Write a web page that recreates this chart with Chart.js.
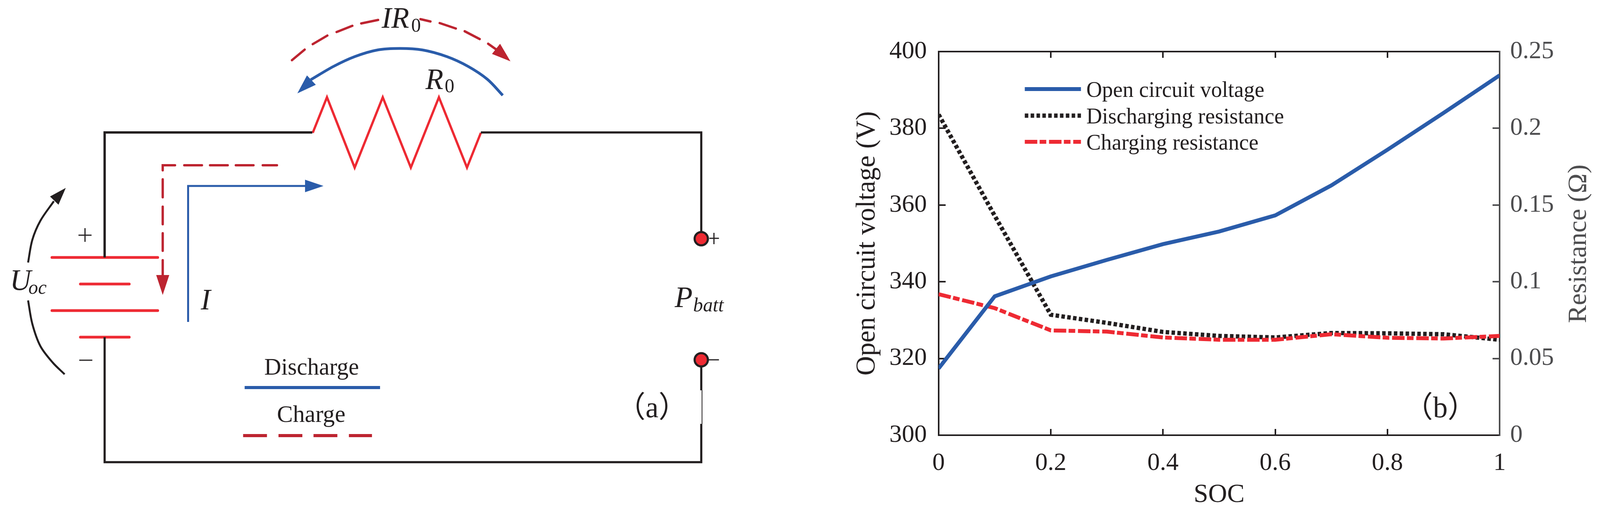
<!DOCTYPE html>
<html><head><meta charset="utf-8">
<script src="https://cdn.jsdelivr.net/npm/chart.js@4/dist/chart.umd.min.js"></script>
<style>html,body{margin:0;padding:0;background:#fff}
canvas{position:absolute;top:0}</style></head><body>
<canvas id="a"></canvas>
<canvas id="b"></canvas>
<script>
// ---- panel (b) data ----
const soc = [0,0.1,0.2,0.3,0.4,0.5,0.6,0.7,0.8,0.9,1];
const openCircuitVoltage = [317.4,336.2,341.4,345.7,349.8,353.1,357.3,365.1,374.4,384,393.8];
const dischargingResistance = [0.209,0.143,0.0785,0.0732,0.0673,0.0647,0.0637,0.0666,0.0664,0.0658,0.0622];
const chargingResistance = [0.0919,0.0828,0.0683,0.0675,0.0637,0.0622,0.0622,0.0658,0.0635,0.063,0.0647];
const socTicks = [0,0.2,0.4,0.6,0.8,1];
const voltageTicks = [300,320,340,360,380,400];
const resistanceTicks = [0,0.05,0.1,0.15,0.2,0.25];
const seriesNames = ['Open circuit voltage','Discharging resistance','Charging resistance'];

// ---- panel (a) schematic, in diagram units ----
const G = null;
const wireLeftTop = [[812,339],[272,339],[272,659]];
const wireLeftBottom = [[272,863],[272,1183],[1823,1183],[1823,1085]];
const wireRight = [[1250,339],[1823,339],[1823,612]];
const wireTerminalMinus = [[1823,922],[1823,999]];
const wireThin = [[1825,999],[1825,1085]];
const resistor = [[813,340],[850,249],[922,429],[995,249],[1068,429],[1141,249],[1214,429],[1250,340]];
const plates = [[135,659],[410,659],G,[209,727],[336,727],G,[135,795],[410,795],G,[209,863],[336,863]];
const signs = [[204,602],[238,602],G,[221,584],[221,619],G,[206,922],[240,922],G,[1844,610],[1869,610],G,[1856,596],[1856,625],G,[1842,921],[1869,921]];
const arcCharge = [[759,154],[792,127],G,[813,113],[851,91],G,[875,82],[916,66],G,[939,60],[983,51],G,[1093,49],[1119,55],G,[1143,59],[1185,73],G,[1208,80],[1247,100],G,[1269,112],[1292,128]];
const arcChargeHead = [[1327,157],[1300,112],[1279,138]];
const arcDischarge = [[1307,244],[1267,203],[1217,170],[1162,145],[1099,128],[1040,124],[981,128],[922,145],[867,170],[808,204]];
const arcDischargeHead = [[773,239],[798,193],[821,217]];
const uocUpper = [[73,672],[84,614],[105,565],[140,515]];
const uocUpperHead = [[171,481],[130,503],[152,524]];
const uocLower = [[73,769],[84,829],[105,886],[137,928],[168,958]];
const currentCharge = [[720,423],[683,423],G,[659,423],[613,423],G,[592,423],[546,423],G,[525,423],[479,423],G,[455,423],[423,423],[423,436],G,[423,459],[423,505],G,[423,529],[423,574],G,[423,597],[423,642],G,[423,666],[423,706]];
const currentChargeHead = [[423,755],[406,704],[440,704]];
const currentDischarge = [[489,824],[489,476],[800,476]];
const currentDischargeHead = [[841,476],[793,460],[793,492]];
const keyDischarge = [[636,992],[988,992]];
const keyCharge = [[632,1115],[694,1115],G,[724,1115],[786,1115],G,[815,1115],[877,1115],G,[907,1115],[967,1115]];
const terminals = [[1823,611],[1823,921]];
const schematicLabels = [
 ['U',26,742,'italic 76px'],['oc',74,752,'italic 50px'],['I',522,792,'italic 76px'],
 ['R',1106,228,'italic 76px'],['0',1156,236,'50px'],['IR',992,71,'italic 76px'],['0',1069,81,'50px'],
 ['P',1754,786,'italic 76px'],['batt',1802,797,'italic 51px'],
 ['Discharge',687,959,'61px'],['Charge',720,1080,'62px']
];

const BLACK='#231f20', BLUE='#2a5caa', RED='#ee2a33', DARK='#bd2430', GRAY='#4d4d4f', SERIF='"Liberation Serif"';
const pts = a => a.map(p => p ? {x:p[0],y:p[1]} : {x:NaN,y:NaN});

// the window may be narrower than the 4159 wide reference: fit horizontally
const k = Math.min(1, window.innerWidth/4159);
const ca=document.getElementById('a'), cb=document.getElementById('b');
const wa=Math.round(2100*k), wb=Math.round(4159*k)-wa;
ca.width=wa;ca.height=1308;ca.style.left='0';ca.style.width=wa+'px';ca.style.height='1308px';
cb.width=wb;cb.height=1308;cb.style.left=wa+'px';cb.style.width=wb+'px';cb.style.height='1308px';

function drawText(ctx,t,x,y,font,align){ctx.save();ctx.translate(x,y);ctx.scale(k,1);ctx.font=font;ctx.textAlign=align||'left';ctx.fillText(t,0,0);ctx.restore();}
function stroke(data,color,width,extra){return Object.assign({data:pts(data),borderColor:color,backgroundColor:'transparent',borderWidth:width,showLine:true,pointRadius:0,clip:false,spanGaps:false,borderCapStyle:'butt',borderJoinStyle:'miter'},extra||{});}
function head(data,color){return {data:pts(data),borderColor:color,backgroundColor:color,borderWidth:0,showLine:true,pointRadius:0,clip:false,fill:'shape'};}

const schematicText = {id:'schematicText',afterDatasetsDraw(c){
  const x=c.scales.x,y=c.scales.y,ctx=c.ctx;ctx.save();ctx.fillStyle=BLACK;ctx.textBaseline='alphabetic';
  schematicLabels.forEach(l=>drawText(ctx,l[0],x.getPixelForValue(l[1]),y.getPixelForValue(l[2]),l[3]+' '+SERIF));
  drawText(ctx,'（a）',x.getPixelForValue(1695),y.getPixelForValue(1068),'76px '+SERIF+',"Noto Sans CJK SC"','center');
  ctx.restore();}};

new Chart(ca,{type:'scatter',plugins:[schematicText],data:{datasets:[
  {data:pts(terminals),pointRadius:17,pointBorderWidth:5.5,pointBackgroundColor:RED,pointBorderColor:BLACK,showLine:false,clip:false},
  stroke(wireLeftTop,BLACK,6),stroke(wireLeftBottom,BLACK,5.5),stroke(wireRight,BLACK,5.5),stroke(wireTerminalMinus,BLACK,5.5),stroke(wireThin,BLACK,2),
  stroke(resistor,RED,6),stroke(plates,RED,7,{borderCapStyle:'round'}),stroke(signs,BLACK,3),
  stroke(arcCharge,DARK,6,{borderCapStyle:'round'}),head(arcChargeHead,DARK),
  stroke(arcDischarge,BLUE,7,{tension:0.33}),head(arcDischargeHead,BLUE),
  stroke(uocUpper,BLACK,5,{tension:0.33}),head(uocUpperHead,BLACK),stroke(uocLower,BLACK,5,{tension:0.33}),
  stroke(currentCharge,DARK,6,{borderCapStyle:'round'}),head(currentChargeHead,DARK),
  stroke(currentDischarge,BLUE,5),head(currentDischargeHead,BLUE),
  stroke(keyDischarge,BLUE,8),stroke(keyCharge,DARK,8)
]},options:{responsive:false,animation:false,devicePixelRatio:1,layout:{padding:0,autoPadding:false},
  plugins:{legend:{display:false},tooltip:{enabled:false}},events:[],
  scales:{x:{type:'linear',display:false,min:0,max:2100},y:{type:'linear',display:false,min:0,max:1308,reverse:true}}}});

// ---- panel (b) ----
const P={left:340*k,top:132,right:261*k,bottom:194};
const forceW=w=>s=>{s.width=w;}, forceH=h=>s=>{s.height=h;};
const setTicks=v=>s=>{s.ticks=v.map(t=>({value:t}));};
const series=[
 {label:seriesNames[0],data:soc.map((x,i)=>({x,y:openCircuitVoltage[i]})),yAxisID:'y',borderColor:BLUE,borderWidth:10,pointRadius:0,order:0,borderJoinStyle:'miter'},
 {label:seriesNames[1],data:soc.map((x,i)=>({x,y:dischargingResistance[i]})),yAxisID:'y1',borderColor:BLACK,borderWidth:11,borderDash:[9,6],pointRadius:0,order:2,borderJoinStyle:'miter'},
 {label:seriesNames[2],data:soc.map((x,i)=>({x,y:chargingResistance[i]})),yAxisID:'y1',borderColor:RED,borderWidth:10,borderDash:[32,6,17,7],pointRadius:0,order:1,borderJoinStyle:'miter'}
];
const annot={id:'annot',afterDatasetsDraw(c){
  const ctx=c.ctx;ctx.save();ctx.textBaseline='alphabetic';
  const ly=[228,296,363],x0=564*k,x1=710*k,tx=724*k;
  c.data.datasets.forEach((d,i)=>{ctx.save();ctx.strokeStyle=d.borderColor;ctx.lineWidth=d.borderWidth;ctx.setLineDash(d.borderDash||[]);
    ctx.beginPath();ctx.moveTo(x0,ly[i]);ctx.lineTo(x1,ly[i]);ctx.stroke();ctx.restore();
    ctx.fillStyle=BLACK;drawText(ctx,d.label,tx,ly[i]+20,'56.7px '+SERIF);});
  ctx.fillStyle=BLACK;
  drawText(ctx,'（b）',1644*k,1068,'76px '+SERIF+',"Noto Sans CJK SC"','center');
  ctx.save();ctx.translate(2023*k,624);ctx.rotate(-Math.PI/2);ctx.fillStyle=GRAY;ctx.font='68.4px '+SERIF;ctx.textAlign='center';
  ctx.fillText('Resistance (Ω)',0,0);ctx.restore();
  ctx.restore();}};
new Chart(cb,{type:'line',plugins:[annot],data:{datasets:series},options:{responsive:false,animation:false,devicePixelRatio:1,layout:{padding:0,autoPadding:false},
  plugins:{legend:{display:false},tooltip:{enabled:false}},events:[],
  scales:{
   x:{type:'linear',position:'bottom',min:0,max:1,afterFit:forceH(P.bottom),afterBuildTicks:setTicks(socTicks),
      grid:{drawOnChartArea:false,color:BLACK,lineWidth:4,tickLength:-16},border:{color:BLACK,width:4},
      ticks:{color:BLACK,font:{family:SERIF,size:64},padding:50,autoSkip:false,maxRotation:0,callback:v=>String(v)},
      title:{display:true,text:'SOC',color:BLACK,font:{family:SERIF,size:67},padding:{top:0,bottom:0}}},
   x2:{type:'linear',position:'top',min:0,max:1,afterFit:forceH(P.top),afterBuildTicks:setTicks(socTicks),
      grid:{drawOnChartArea:false,color:BLACK,lineWidth:4,tickLength:-16},border:{color:BLACK,width:4},ticks:{display:false}},
   y:{type:'linear',position:'left',min:300,max:400,afterFit:forceW(P.left),afterBuildTicks:setTicks(voltageTicks),
      grid:{drawOnChartArea:false,color:BLACK,lineWidth:4,tickLength:-18},border:{color:BLACK,width:4},
      ticks:{color:BLACK,font:{family:SERIF,size:64},padding:48,callback:v=>String(v)},
      title:{display:true,text:'Open circuit voltage (V)',color:BLACK,font:{family:SERIF,size:69},padding:{top:111,bottom:0}}},
   y1:{type:'linear',position:'right',min:0,max:0.25,afterFit:forceW(P.right),afterBuildTicks:setTicks(resistanceTicks),
      grid:{drawOnChartArea:false,color:GRAY,lineWidth:4,tickLength:-18},border:{color:GRAY,width:4},
      ticks:{color:GRAY,font:{family:SERIF,size:64},padding:45,callback:v=>String(v)}}
  }}});
</script></body></html>
